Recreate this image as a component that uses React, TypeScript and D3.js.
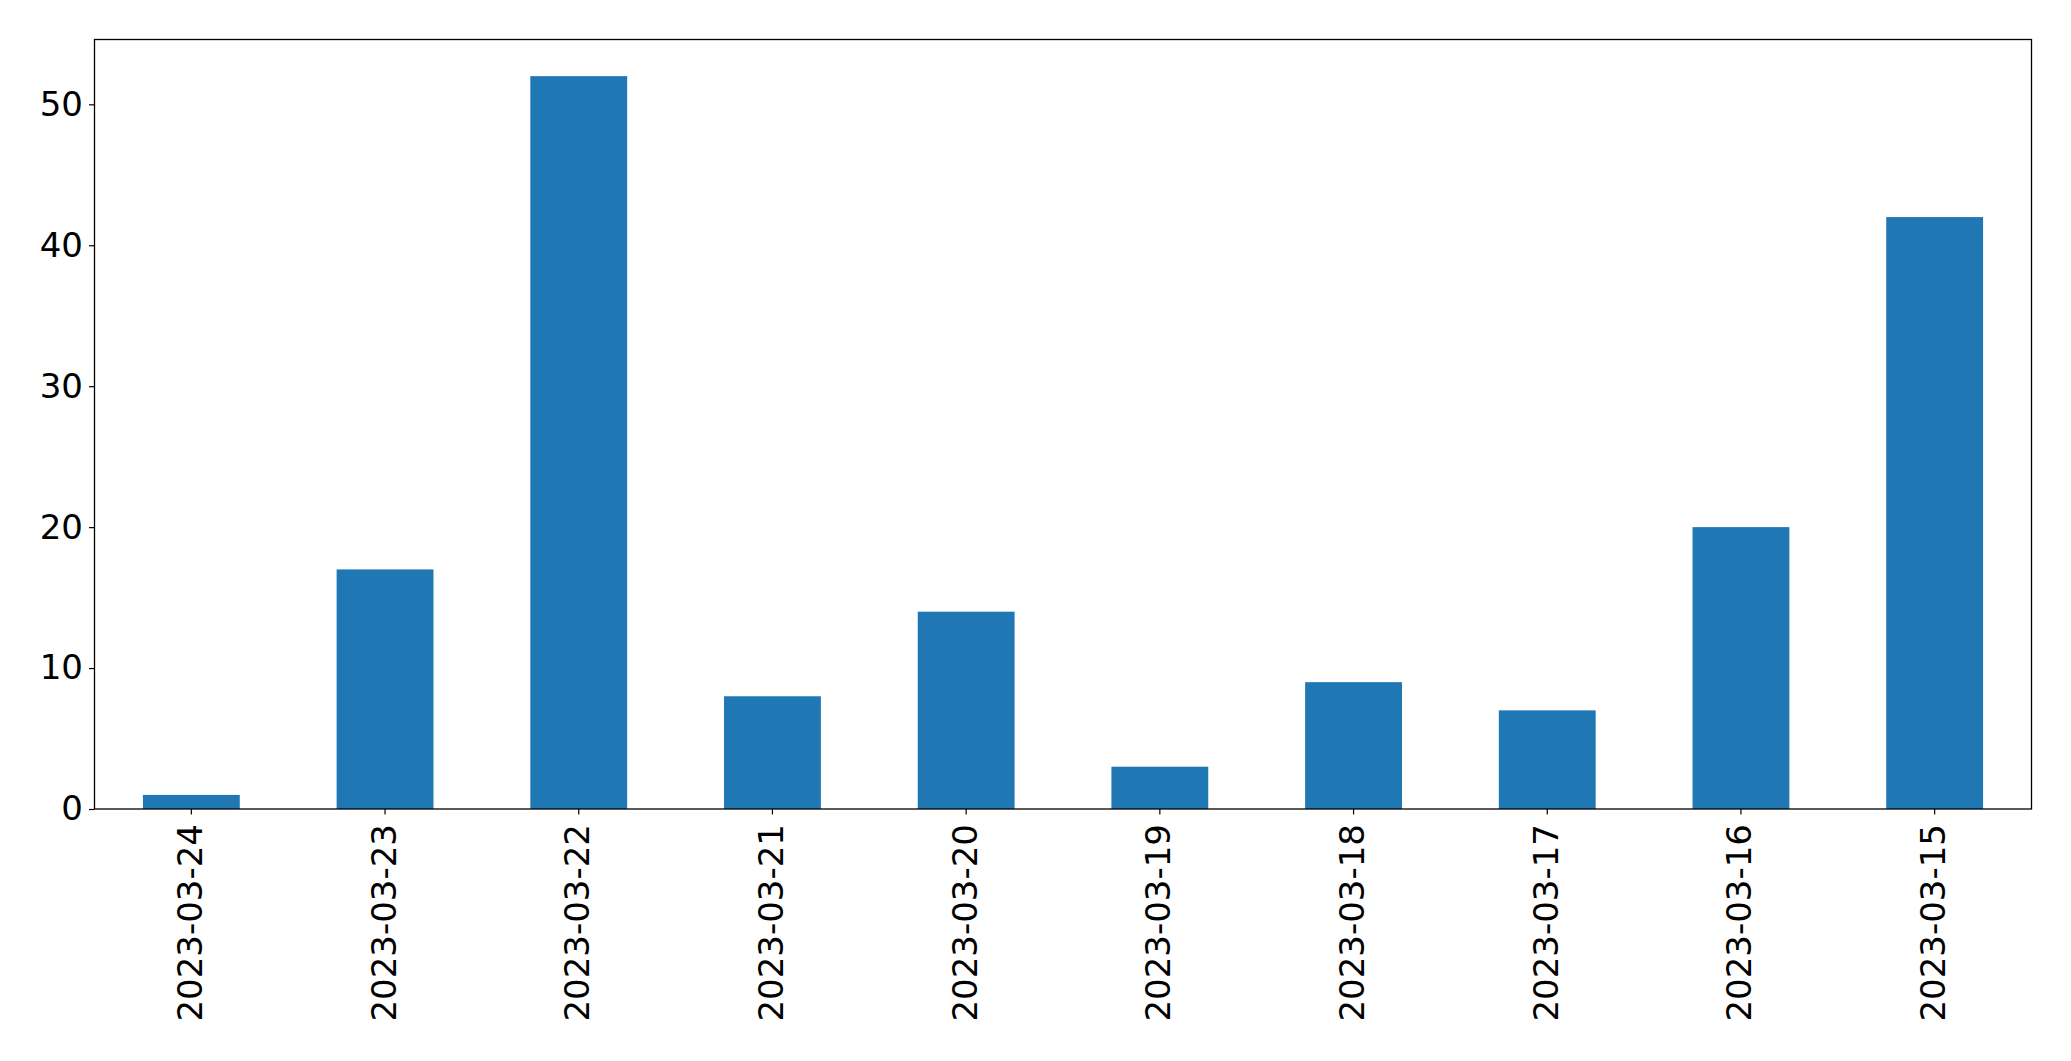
import React, { useEffect, useRef } from "react";
import * as d3 from "d3";

const dates = [
  "2023-03-24",
  "2023-03-23",
  "2023-03-22",
  "2023-03-21",
  "2023-03-20",
  "2023-03-19",
  "2023-03-18",
  "2023-03-17",
  "2023-03-16",
  "2023-03-15",
];
const counts = [1, 17, 52, 8, 14, 3, 9, 7, 20, 42];
const yTicks = [0, 10, 20, 30, 40, 50];

const W = 2071;
const H = 1061;

const App: React.FC = () => {
  const svgRef = useRef<SVGSVGElement>(null);

  useEffect(() => {
    document.body.style.margin = "0";
    if (!svgRef.current) return;

    const margin = { top: 39.5, right: 39.5, bottom: 252, left: 94.5 };
    const innerW = W - margin.left - margin.right;
    const innerH = H - margin.top - margin.bottom;

    const svg = d3.select(svgRef.current);
    svg.selectAll("*").remove();

    const g = svg
      .append("g")
      .attr("transform", `translate(${margin.left},${margin.top})`);

    // band scale: step per category, bars half-width (pandas style)
    const x = d3
      .scaleBand()
      .domain(dates)
      .range([0, innerW])
      .paddingInner(0.5)
      .paddingOuter(0.25);

    const yMax = (d3.max(counts) || 0) * 1.05;
    const y = d3.scaleLinear().domain([0, yMax]).range([innerH, 0]);

    const font = "DejaVu Sans, sans-serif";

    // BARS
    g.selectAll("rect.bar")
      .data(counts)
      .enter()
      .append("rect")
      .attr("class", "bar")
      .attr("x", (_, i) => x(dates[i])!)
      .attr("y", d => y(d))
      .attr("width", x.bandwidth())
      .attr("height", d => innerH - y(d))
      .attr("fill", "#1f77b4");

    // Y AXIS
    const yAxis = g
      .append("g")
      .call(
        d3
          .axisLeft(y)
          .tickValues(yTicks)
          .tickSize(5.5)
          .tickPadding(6)
      );
    yAxis.select(".domain").remove();
    yAxis.selectAll("line").attr("stroke", "#000").attr("stroke-width", 1.2);
    yAxis
      .selectAll("text")
      .attr("font-family", font)
      .attr("font-size", 34)
      .attr("fill", "#000");

    // X AXIS
    const xAxis = g
      .append("g")
      .attr("transform", `translate(0,${innerH})`)
      .call(d3.axisBottom(x).tickSize(5.5).tickSizeOuter(0));
    xAxis.select(".domain").remove();
    xAxis.selectAll("line").attr("stroke", "#000").attr("stroke-width", 1.2);
    xAxis
      .selectAll("text")
      .attr("font-family", font)
      .attr("font-size", 34)
      .attr("fill", "#000")
      .attr("y", 0)
      .attr("dy", null)
      .attr("dominant-baseline", "central")
      .attr("text-anchor", "end")
      .attr("transform", "translate(-1.5,15) rotate(-90)");

    // FRAME
    g.append("rect")
      .attr("x", 0)
      .attr("y", 0)
      .attr("width", innerW)
      .attr("height", innerH)
      .attr("fill", "none")
      .attr("stroke", "#000")
      .attr("stroke-width", 1.3);
  }, []);

  return (
    <svg
      ref={svgRef}
      width={W}
      height={H}
      style={{ display: "block", background: "#fff" }}
    ></svg>
  );
};

export default App;
